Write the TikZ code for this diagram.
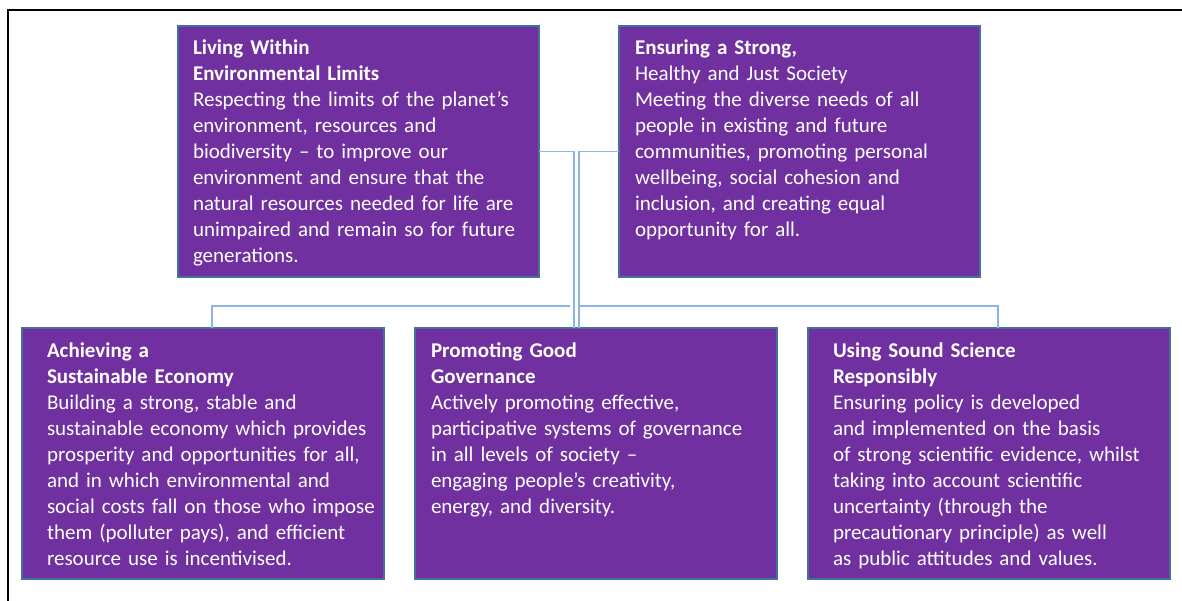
\documentclass[tikz,border=0pt]{standalone}
\usepackage{fontspec}
\setmainfont{Carlito}
\usepackage{xcolor}
\usetikzlibrary{positioning}

\definecolor{pillarfill}{RGB}{112,48,160}
\definecolor{pillarline}{RGB}{65,113,156}
\definecolor{linkblue}{RGB}{141,180,226}

\begin{document}
\begin{tikzpicture}[
x=1pt, y=-1pt,
pillar/.style={
rectangle,
draw=pillarline,
fill=pillarfill,
line width=1.5pt,
outer sep=0pt,
anchor=north west,
inner ysep=8pt,
inner xsep=#1,
text height=21pt,
text depth=214pt,
align=left,
text=white,
font=\fontsize{21}{26}\selectfont,
execute at begin node={\hyphenpenalty=10000\rightskip=-45pt plus 1fil}
},
link/.style={
draw=linkblue,
line width=1.5pt
}
]

\useasboundingbox (0,0) rectangle (1182,601);
\draw[line width=2.5pt] (8,601) -- (8,10) -- (1182,10);

\node[pillar=15pt, text width=331pt] (env) at (178,26)
{\textbf{Living Within}\\ \textbf{Environmental Limits}\\ Respecting the limits of the planet’s\\ environment, resources and\\ biodiversity – to improve our\\ environment and ensure that the\\ natural resources needed for life are\\ unimpaired and remain so for future\\ generations.};
\node[pillar=16pt, text width=329pt, right=80pt of env.north east, anchor=north west] (soc)
{\textbf{Ensuring a Strong,}\\ Healthy and Just Society\\ Meeting the diverse needs of all\\ people in existing and future\\ communities, promoting personal\\ wellbeing, social cohesion and\\ inclusion, and creating equal\\ opportunity for all.};

\node[pillar=25pt, text width=312pt] (econ) at (22,328)
{\textbf{Achieving a}\\ \textbf{Sustainable Economy}\\ Building a strong, stable and\\ sustainable economy which provides\\ prosperity and opportunities for all,\\ and in which environmental and\\ social costs fall on those who impose\\ them (polluter pays), and efficient\\ resource use is incentivised.};
\node[pillar=16pt, text width=330pt, right=31pt of econ.north east, anchor=north west] (gov)
{\textbf{Promoting Good}\\ \textbf{Governance}\\ Actively promoting effective,\\ participative systems of governance\\ in all levels of society –\\ engaging people’s creativity,\\ energy, and diversity.};
\node[pillar=25pt, text width=312pt, right=31pt of gov.north east, anchor=north west] (sci)
{\textbf{Using Sound Science}\\ \textbf{Responsibly}\\ Ensuring policy is developed\\ and implemented on the basis\\ of strong scientific evidence, whilst\\ taking into account scientific\\ uncertainty (through the\\ precautionary principle) as well\\ as public attitudes and values.};

\coordinate (trunkL) at (574,306);
\coordinate (trunkR) at (579,306);

\draw[link] (env.east) -| (trunkL |- gov.north);
\draw[link] (soc.west) -| (trunkR |- gov.north);
\draw[link] ([xshift=-4pt]trunkL) -| ([xshift=9pt]econ.north);
\draw[link] (trunkR) -| ([xshift=9pt]sci.north);

\end{tikzpicture}
\end{document}
